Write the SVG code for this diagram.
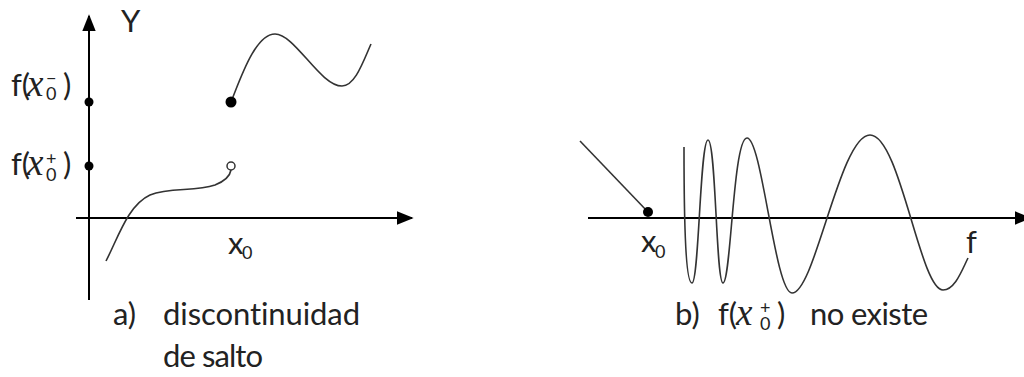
<svg xmlns="http://www.w3.org/2000/svg" width="1024" height="377" viewBox="0 0 1024 377">
<style>
.ax{stroke:#000;stroke-width:2;fill:none}
.cv{stroke:#333;stroke-width:1.6;fill:none}
.t{font-family:Lato,"Open Sans","Liberation Sans",sans-serif;font-size:31px;fill:#222;white-space:pre;font-variant-ligatures:none}
.m{font-family:"Liberation Serif","DejaVu Serif",serif;font-style:italic;font-size:37px;fill:#222}
.s{font-family:Lato,"Open Sans","Liberation Sans",sans-serif;font-size:18px;fill:#222}
</style>
<defs>
<marker id="ar2" viewBox="0 0 10 10" refX="9" refY="5" markerWidth="17" markerHeight="17" markerUnits="userSpaceOnUse" orient="auto">
<path d="M0,1 L10,5 L0,9 Z" fill="#000"/>
</marker>
</defs>
<g id="connectors">
<line class="ax" x1="89" y1="300" x2="89" y2="16" marker-end="url(#ar2)"/>
<line class="ax" x1="76" y1="218" x2="412" y2="218" marker-end="url(#ar2)"/>
<line class="ax" x1="588" y1="218" x2="1030" y2="218" marker-end="url(#ar2)"/>
</g>
<g id="graph-a">
<path class="cv" d="M106,261 C118,238 128,205 150,195 C170,187 195,192 215,185 C225,181 230,176 231,170"/>
<path class="cv" d="M231,102 C240,80 255,34 275,34 C295,34 320,86 342,86 C355,86 363,62 371,44"/>
<circle cx="89" cy="102" r="4.5" fill="#000"/>
<circle cx="89" cy="166" r="4.5" fill="#000"/>
<circle cx="231" cy="102" r="5.5" fill="#000"/>
<circle cx="231" cy="166" r="4" fill="#fff" stroke="#333" stroke-width="1.5"/>
<text class="t" x="121" y="32" font-size="27">Y</text>
<text class="t" x="11" y="96">f(<tspan class="m" x="27">x</tspan><tspan class="s" x="46" y="100">0</tspan><tspan class="s" x="46" y="84">−</tspan><tspan x="63" y="96">)</tspan></text>
<text class="t" x="11" y="175">f(<tspan class="m" x="27">x</tspan><tspan class="s" x="46" y="181">0</tspan><tspan class="s" x="46" y="165">+</tspan><tspan x="63" y="175">)</tspan></text>
<text class="t" x="228" y="254">x<tspan class="s" x="242" y="259">0</tspan></text>
<text class="t" x="113" y="325">a)</text>
<text class="t" x="163" y="325" textLength="197" lengthAdjust="spacing">discontinuidad</text>
<text class="t" x="163" y="367" textLength="100" lengthAdjust="spacing">de salto</text>
</g>
<g id="graph-b">
<line class="cv" x1="580" y1="141" x2="648" y2="212"/>
<circle cx="648" cy="212" r="5" fill="#000"/>
<path class="cv" d="M684,147 C684,230 686,283 692,283 C699,283 700,140 708,140 C716,140 716,283 723,283 C731,283 733,138 747,138 C762,138 775,293 792,293 C815,293 840,135 870,135 C900,135 920,290 943,290 C955,290 962,270 968,258"/>
<text class="t" x="641" y="252">x<tspan class="s" x="655" y="258">0</tspan></text>
<text class="t" x="966" y="253">f</text>
<text class="t" x="675" y="325">b)<tspan x="718">f(</tspan><tspan class="m" x="736">x</tspan><tspan class="s" x="760" y="330">0</tspan><tspan class="s" x="760" y="314">+</tspan><tspan x="777" y="325">)</tspan></text>
<text class="t" x="810" y="325" textLength="118" lengthAdjust="spacing">no existe</text>
</g>
</svg>
